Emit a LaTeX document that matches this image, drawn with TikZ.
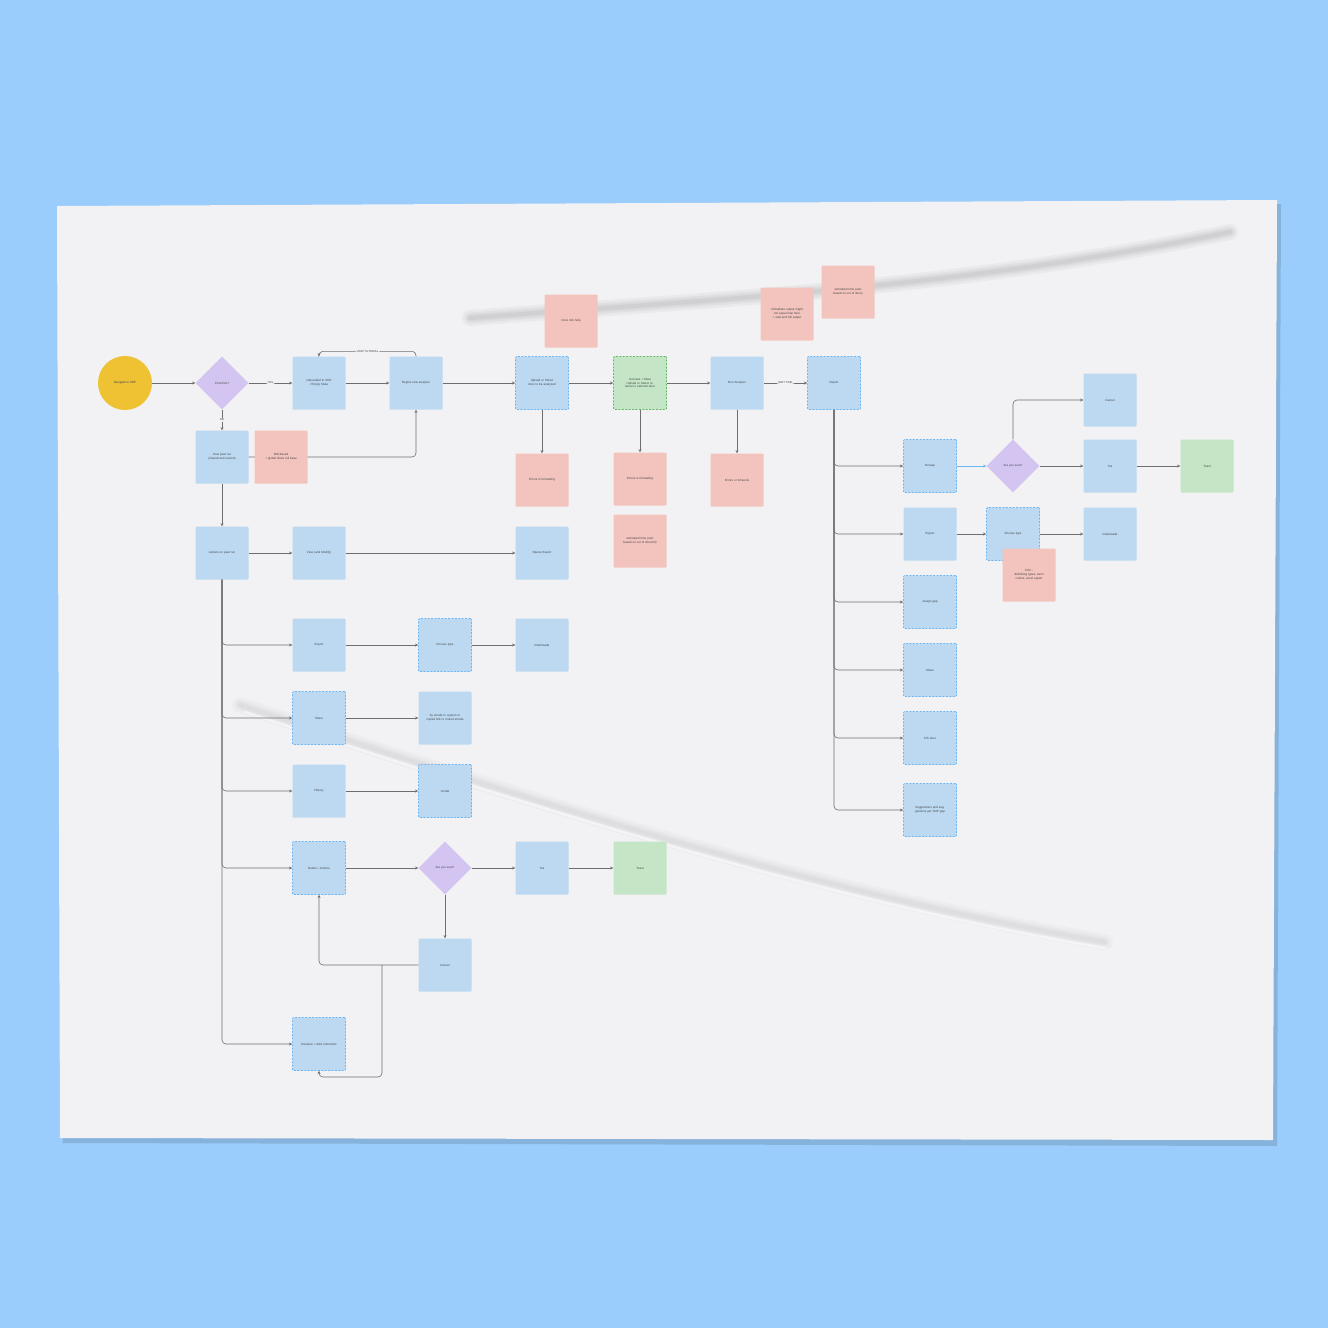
\documentclass[tikz,border=0pt]{standalone}
\usepackage{fontspec}
\setmainfont{Liberation Sans}
\usetikzlibrary{shapes.geometric,arrows.meta}
\definecolor{bgblue}{HTML}{9ACDFB}
\definecolor{paper}{HTML}{F2F1F3}
\definecolor{bluebox}{HTML}{BCD9F1}
\definecolor{dashblue}{HTML}{6CB6F4}
\definecolor{rednote}{HTML}{F2C4BD}
\definecolor{greenbox}{HTML}{C4E6C6}
\definecolor{purpled}{HTML}{D4C4F1}
\definecolor{yellowc}{HTML}{EEC233}
\definecolor{linegray}{HTML}{6E6E70}
\definecolor{txtgray}{HTML}{444448}
\begin{document}
\begin{tikzpicture}[x=1pt,y=-1pt,
  box/.style={rectangle, rounded corners=1, minimum width=53, minimum height=53, fill=bluebox, text width=44, align=center, font=\fontsize{3}{3.8}\selectfont, text=txtgray, inner sep=0},
  dbox/.style={box, draw=dashblue, line width=0.7pt, dash pattern=on 2pt off 1.4pt},
  rnote/.style={box, fill=rednote},
  gbox/.style={box, fill=greenbox},
  dgbox/.style={gbox, draw=green!55!black!60, line width=0.7pt, dash pattern=on 2pt off 1.4pt},
  dia/.style={diamond, aspect=1, fill=purpled, minimum width=53, minimum height=53, inner sep=0, align=center, font=\fontsize{3}{3.8}\selectfont, text=txtgray},
  conn/.style={draw=linegray, line width=0.6pt, -{Stealth[length=3.2pt,width=3pt]}, rounded corners=4},
  lab/.style={fill=paper, font=\fontsize{2.8}{3.2}\selectfont, text=txtgray, inner sep=1},
  wrk/.style={line cap=round, draw=black}]
\useasboundingbox (0,0) rectangle (1328,1328);
\fill[bgblue] (0,0) rectangle (1328,1328);
% paper with soft shadow
\fill[black!70!bgblue, opacity=0.18] (60,210) -- (1281,204) -- (1277,1146) -- (63,1143) -- cycle;
\fill[paper] (57,206) -- (1277,200) -- (1273,1140) -- (60,1138) -- cycle;
% faint wrinkles (soft layered strokes)
\foreach \w in {16,11,7,4}{
  \draw[wrk, opacity=0.035, line width=\w pt] (470,318) .. controls (700,300) and (950,290) .. (1230,232);
  \draw[wrk, opacity=0.02, line width=\w pt] (240,705) .. controls (500,790) and (800,890) .. (1105,942);
}
\draw[white, opacity=0.5, line width=2.5pt, line cap=round] (245,712) .. controls (505,797) and (805,897) .. (1105,948);

% ---- nodes ----
\node[circle, fill=yellowc, minimum size=54, inner sep=0, font=\fontsize{3}{3.8}\selectfont, text=txtgray] (start) at (125,383) {Navigate to SOP};
\node[dia] (first) at (222,383) {First time?};
\node[box] (onb) at (319,383) {onboarded to SOP / Empty State};
\node[box] (begin) at (416,383) {Begins new analysis};
\node[box] (past) at (222,457) {View past run (shared and owned)};
\node[dbox] (upload) at (542,383) {Upload or Select docs to be analyzed};
\node[rnote] (help) at (571,321) {more info help};
\node[dgbox] (success) at (640,383) {Success + Meta\\Upload or Select internal or external docs};
\node[box] (run) at (737,383) {Run Analysis};
\node[dbox] (report) at (834,383) {Report};
\node[rnote] (immed) at (787,314) {Immediate output might not equal final here\\+ wait and full output};
\node[rnote] (esttop) at (848,292) {estimated time (calc based on vol of docs)};
\node[rnote] (err1) at (542,480) {Errors in formatting};
\node[rnote] (err2) at (640,479) {Errors in formatting};
\node[rnote] (est2) at (640,541) {estimated time (calc based on vol of docs/IO)};
\node[rnote] (err3) at (737,480) {Errors or timeouts};
\node[box] (actions) at (222,553) {Actions on past run};
\node[box] (viewmod) at (319,553) {View (and Modify)};
\node[box] (opens) at (542,553) {Opens Report};
\node[box] (exportL) at (319,645) {Export};
\node[dbox] (chooseL) at (445,645) {Choose type};
\node[box] (downL) at (542,645) {Downloads};
\node[dbox] (shareL) at (319,718) {Share};
\node[box] (emails) at (445,718) {by emails in system or copied link to invited emails};
\node[box] (history) at (319,791) {History};
\node[dbox] (modal) at (445,791) {modal};
\node[dbox] (delete) at (319,868) {Delete / Archive};
\node[dia] (sureL) at (445,868) {Are you sure?};
\node[box] (yesL) at (542,868) {Yes};
\node[gbox] (toastL) at (640,868) {Toast};
\node[box] (cancelL) at (445,965) {Cancel};
\node[dbox] (rename) at (319,1044) {Rename + Add comments};
\coordinate (cbr) at (382,965);
% right part
\node[dbox] (remap) at (930,466) {Remap};
\node[dia] (sureR) at (1013,466) {Are you sure?};
\node[box] (cancelR) at (1110,400) {Cancel};
\node[box] (yesR) at (1110,466) {Yes};
\node[gbox] (toastR) at (1207,466) {Toast};
\node[box] (exportR) at (930,534) {Export};
\node[dbox] (chooseR) at (1013,534) {Choose type};
\node[box] (downR) at (1110,534) {Downloads};
\node[dbox] (assign) at (930,602) {Assign gap};
\node[dbox] (shareR) at (930,670) {Share};
\node[dbox] (cis) at (930,738) {CIS docs};
\node[dbox] (sugg) at (930,810) {Suggestions and suggestions per SOP gap};

% ---- connectors ----
\draw[conn] (start) -- (first);
\draw[conn] (first) -- node[lab]{YES} (onb);
\draw[conn] (first) -- node[lab]{NO} (past);
\draw[conn] (onb) -- (begin);
\draw[conn] (begin.north) -- ++(0,-5) -| node[lab, pos=0.25]{VIEW TUTORIAL} (onb.north);
\draw[conn] (begin) -- (upload);
\draw[conn] (upload) -- (success);
\draw[conn] (success) -- (run);
\draw[conn] (run) -- node[lab]{WAIT TIME} (report);
\draw[conn] (upload) -- (err1);
\draw[conn] (success) -- (err2);
\draw[conn] (run) -- (err3);
\draw[conn] (past) -- (actions);
\draw[conn] (actions) -- (viewmod);
\draw[conn] (viewmod) -- (opens);
\draw[conn] (actions.south) |- (exportL.west);
\draw[conn] (actions.south) |- (shareL.west);
\draw[conn] (actions.south) |- (history.west);
\draw[conn] (actions.south) |- (delete.west);
\draw[conn] (actions.south) |- (rename.west);
\draw[conn] (exportL) -- (chooseL);
\draw[conn] (chooseL) -- (downL);
\draw[conn] (shareL) -- (emails);
\draw[conn] (history) -- (modal);
\draw[conn] (delete) -- (sureL);
\draw[conn] (sureL) -- (yesL);
\draw[conn] (yesL) -- (toastL);
\draw[conn] (sureL) -- (cancelL);
\draw[conn] (cancelL.west) -| (delete.south);
\draw[conn] (cbr) -- (382,1077) -| (rename.south);
% right
\draw[conn] (report.south) |- (remap.west);
\draw[conn] (report.south) |- (exportR.west);
\draw[conn] (report.south) |- (assign.west);
\draw[conn] (report.south) |- (shareR.west);
\draw[conn] (report.south) |- (cis.west);
\draw[conn] (report.south) |- (sugg.west);
\draw[conn, draw=dashblue] (remap) -- (sureR);
\draw[conn] (sureR.north) |- (cancelR.west);
\draw[conn] (sureR) -- (yesR);
\draw[conn] (yesR) -- (toastR);
\draw[conn] (exportR) -- (chooseR);
\draw[conn] (chooseR) -- (downR);
\node[rnote] (csv) at (1029,575) {CSV -\\delimiting types, semi colons, excel export};
% past-run line behind the role note
\draw[conn] (past.east) -| (begin.south);
\node[rnote] (role) at (281,457) {Roll-based\\+ global times roll base};
\end{tikzpicture}
\end{document}
